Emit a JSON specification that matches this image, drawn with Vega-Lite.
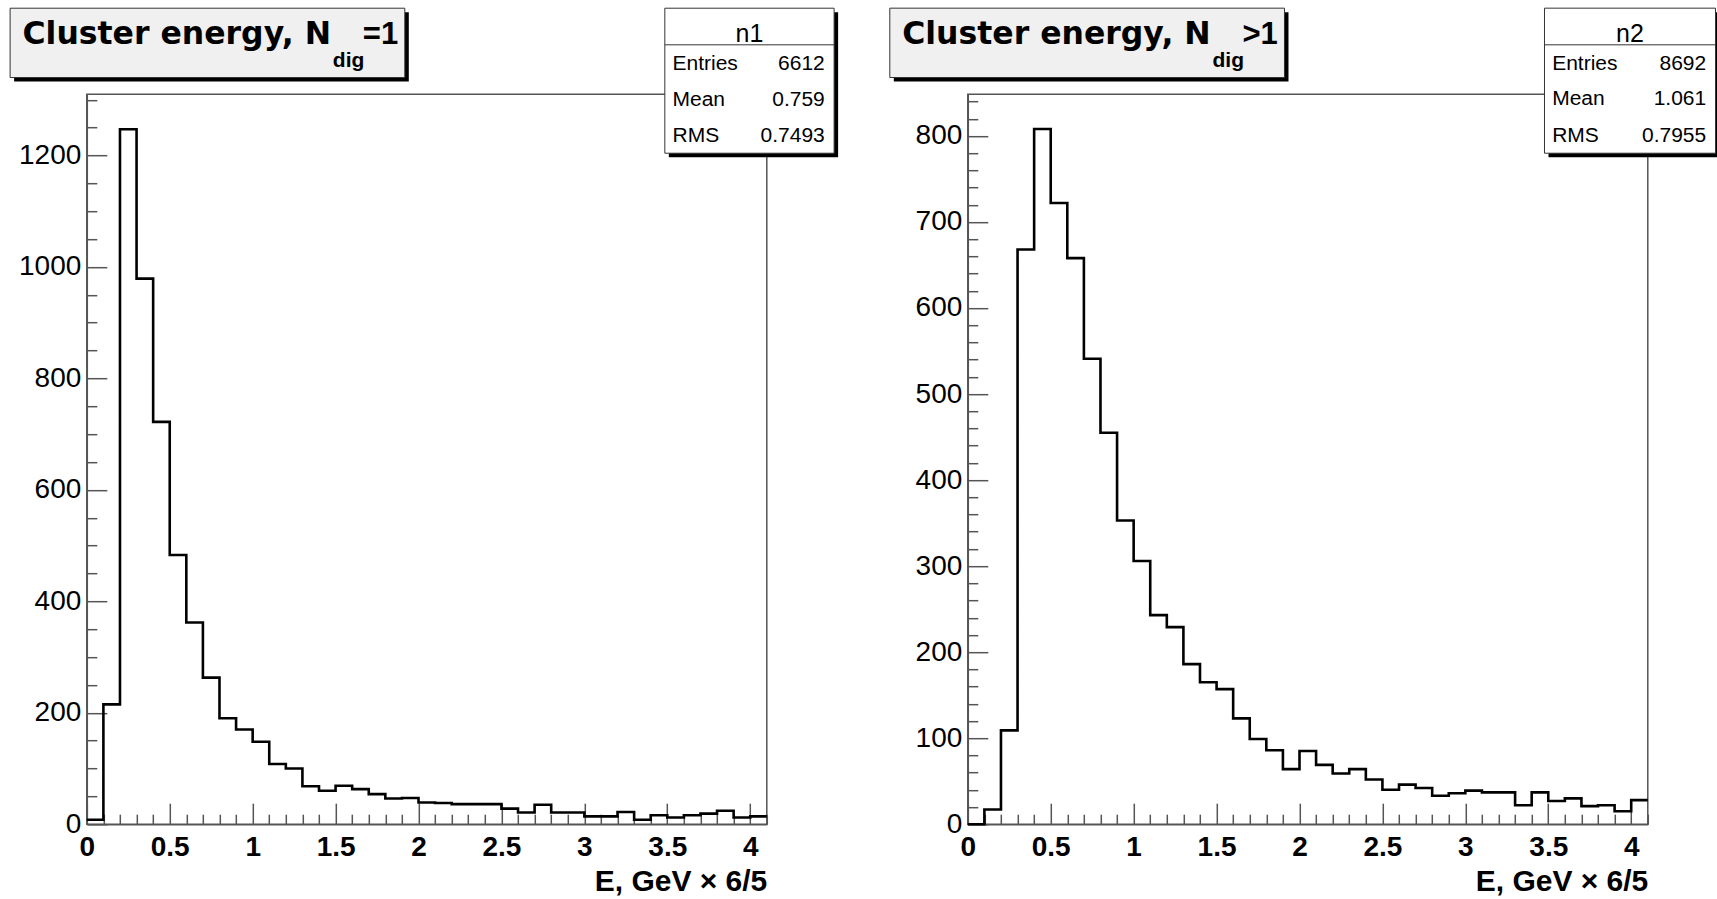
{
  "$schema": "https://vega.github.io/schema/vega-lite/v6.json",
  "background": "white",
  "padding": {"left": 8.8, "top": 6.2, "right": 0, "bottom": 0},
  "config": {
    "view": {"stroke": "#555", "strokeWidth": 1.5},
    "font": "Liberation Sans"
  },
  "datasets": {
    "h1": [{"e":0,"n":8},{"e":0.1,"n":215},{"e":0.2,"n":1247},{"e":0.3,"n":979},{"e":0.4,"n":722},{"e":0.5,"n":483},{"e":0.6,"n":362},{"e":0.7,"n":263},{"e":0.8,"n":190},{"e":0.9,"n":170},{"e":1.0,"n":148},{"e":1.1,"n":108},{"e":1.2,"n":100},{"e":1.3,"n":68},{"e":1.4,"n":60},{"e":1.5,"n":69},{"e":1.6,"n":63},{"e":1.7,"n":54},{"e":1.8,"n":46},{"e":1.9,"n":47},{"e":2.0,"n":39},{"e":2.1,"n":38},{"e":2.2,"n":36},{"e":2.3,"n":36},{"e":2.4,"n":36},{"e":2.5,"n":28},{"e":2.6,"n":21},{"e":2.7,"n":35},{"e":2.8,"n":21},{"e":2.9,"n":21},{"e":3.0,"n":14},{"e":3.1,"n":14},{"e":3.2,"n":22},{"e":3.3,"n":8},{"e":3.4,"n":16},{"e":3.5,"n":12},{"e":3.6,"n":16},{"e":3.7,"n":19},{"e":3.8,"n":24},{"e":3.9,"n":12},{"e":4.0,"n":14},{"e":4.1,"n":14}],
    "h2": [{"e":0,"n":0},{"e":0.1,"n":17},{"e":0.2,"n":109},{"e":0.3,"n":668},{"e":0.4,"n":808},{"e":0.5,"n":722},{"e":0.6,"n":658},{"e":0.7,"n":541},{"e":0.8,"n":455},{"e":0.9,"n":353},{"e":1.0,"n":306},{"e":1.1,"n":243},{"e":1.2,"n":229},{"e":1.3,"n":186},{"e":1.4,"n":165},{"e":1.5,"n":157},{"e":1.6,"n":123},{"e":1.7,"n":99},{"e":1.8,"n":86},{"e":1.9,"n":64},{"e":2.0,"n":85},{"e":2.1,"n":69},{"e":2.2,"n":59},{"e":2.3,"n":64},{"e":2.4,"n":52},{"e":2.5,"n":40},{"e":2.6,"n":46},{"e":2.7,"n":42},{"e":2.8,"n":33},{"e":2.9,"n":36},{"e":3.0,"n":39},{"e":3.1,"n":37},{"e":3.2,"n":37},{"e":3.3,"n":22},{"e":3.4,"n":37},{"e":3.5,"n":27},{"e":3.6,"n":30},{"e":3.7,"n":21},{"e":3.8,"n":22},{"e":3.9,"n":15},{"e":4.0,"n":28},{"e":4.1,"n":28}]
  },
  "hconcat": [
    {
      "width": 680, "height": 730,
      "data": {"name": "h1"},
      "resolve": {"axis": {"x": "independent", "y": "independent"}},
      "layer": [
        {
          "mark": {"type": "line", "interpolate": "step-after", "color": "black", "strokeWidth": 2.6, "clip": false},
          "encoding": {
            "x": {"field": "e", "type": "quantitative", "scale": {"domain": [0, 4.1], "nice": false, "zero": false},
              "axis": {"orient": "bottom", "values": [0,0.5,1,1.5,2,2.5,3,3.5,4], "format": "~g", "tickSize": -21, "tickColor": "#555", "tickWidth": 1.5, "domainColor": "#555", "domainWidth": 1.5, "labelFont": "Liberation Sans", "labelFontWeight": "bold", "labelFontSize": 28, "labelColor": "black", "labelPadding": 30, "labelFlush": false, "labelOverlap": false, "grid": false, "title": "E, GeV × 6/5", "titleFont": "Liberation Sans", "titleFontWeight": "bold", "titleFontSize": 30, "titleColor": "black", "titleAnchor": "end", "titlePadding": 5}},
            "y": {"field": "n", "type": "quantitative", "scale": {"domain": [0, 1310], "nice": false},
              "axis": {"orient": "left", "values": [0,200,400,600,800,1000,1200], "format": "d", "tickSize": -20, "tickColor": "#555", "tickWidth": 1.5, "domainColor": "#555", "domainWidth": 1.5, "labelFont": "Liberation Sans", "labelFontSize": 28, "labelColor": "black", "labelPadding": 26, "labelOverlap": false, "grid": false, "title": null}}
          }
        },
        {
          "mark": {"type": "line", "strokeOpacity": 0},
          "encoding": {
            "x": {"field": "e", "type": "quantitative",
              "axis": {"orient": "bottom", "values": [0.1,0.2,0.3,0.4,0.6,0.7,0.8,0.9,1.1,1.2,1.3,1.4,1.6,1.7,1.8,1.9,2.1,2.2,2.3,2.4,2.6,2.7,2.8,2.9,3.1,3.2,3.3,3.4,3.6,3.7,3.8,3.9,4.1], "tickSize": -10, "tickColor": "#555", "tickWidth": 1.5, "labels": false, "domain": false, "grid": false, "title": null}},
            "y": {"field": "n", "type": "quantitative",
              "axis": {"orient": "left", "values": [50,100,150,250,300,350,450,500,550,650,700,750,850,900,950,1050,1100,1150,1250,1300], "tickSize": -10, "tickColor": "#555", "tickWidth": 1.5, "labels": false, "domain": false, "grid": false, "title": null}}
          }
        },
        {
          "data": {"values": [{}]},
          "mark": {"type": "rect", "fill": "black", "clip": false},
          "encoding": {"x": {"datum": -0.4384, "axis": null}, "x2": {"datum": 1.9415}, "y": {"datum": 1457.1, "axis": null}, "y2": {"datum": 1332.8}}
        },
        {
          "data": {"values": [{}]},
          "mark": {"type": "rect", "fill": "#f0f0f0", "stroke": "#333", "strokeWidth": 1, "clip": false},
          "encoding": {"x": {"datum": -0.4625, "axis": null}, "x2": {"datum": 1.9174}, "y": {"datum": 1464.3, "axis": null}, "y2": {"datum": 1339.9}}
        },
        {
          "data": {"values": [{}]},
          "mark": {"type": "rect", "fill": "black", "clip": false},
          "encoding": {"x": {"datum": 3.5092, "axis": null}, "x2": {"datum": 4.5300}, "y": {"datum": 1457.1, "axis": null}, "y2": {"datum": 1196.9}}
        },
        {
          "data": {"values": [{}]},
          "mark": {"type": "rect", "fill": "white", "stroke": "#333", "strokeWidth": 1, "clip": false},
          "encoding": {"x": {"datum": 3.4851, "axis": null}, "x2": {"datum": 4.5059}, "y": {"datum": 1464.3, "axis": null}, "y2": {"datum": 1204.1}}
        },
        {
          "data": {"values": [{}]},
          "mark": {"type": "rule", "color": "#333", "strokeWidth": 1, "clip": false},
          "encoding": {"x": {"datum": 3.4851, "axis": null}, "x2": {"datum": 4.5059}, "y": {"datum": 1398.6, "axis": null}}
        },
        {
          "data": {"values": [{"t": "Cluster energy, N", "s": "dig", "r": "=1", "h": "n1"}]},
          "layer": [
            {"mark": {"type": "text", "align": "left", "baseline": "alphabetic", "font": "DejaVu Sans", "fontWeight": "bold", "fontSize": 31.5, "color": "black", "clip": false},
             "encoding": {"text": {"field": "t"}, "x": {"datum": -0.3877, "axis": null}, "y": {"datum": 1399.7, "axis": null}}},
            {"mark": {"type": "text", "align": "left", "baseline": "alphabetic", "font": "Liberation Sans", "fontWeight": "bold", "fontSize": 21, "color": "black", "clip": false},
             "encoding": {"text": {"field": "s"}, "x": {"datum": 1.4833, "axis": null}, "y": {"datum": 1358, "axis": null}}},
            {"mark": {"type": "text", "align": "left", "baseline": "alphabetic", "font": "Liberation Sans", "fontWeight": "bold", "fontSize": 31, "color": "black", "clip": false},
             "encoding": {"text": {"field": "r"}, "x": {"datum": 1.6642, "axis": null}, "y": {"datum": 1399.7, "axis": null}}},
            {"mark": {"type": "text", "align": "center", "baseline": "alphabetic", "font": "Liberation Sans", "fontSize": 25, "color": "black", "clip": false},
             "encoding": {"text": {"field": "h"}, "x": {"datum": 3.9955, "axis": null}, "y": {"datum": 1403.3, "axis": null}}}
          ]
        },
        {
          "data": {"values": [{"k": "Entries", "v": "6612"}, {"k": "Mean", "v": "0.759"}, {"k": "RMS", "v": "0.7493"}]},
          "layer": [
            {"transform": [{"filter": "datum.k == 'Entries'"}],
             "layer": [
               {"mark": {"type": "text", "align": "left", "baseline": "alphabetic", "fontSize": 21, "color": "black", "clip": false},
                "encoding": {"text": {"field": "k"}, "x": {"datum": 3.5315, "axis": null}, "y": {"datum": 1353.8, "axis": null}}},
               {"mark": {"type": "text", "align": "right", "baseline": "alphabetic", "fontSize": 21, "color": "black", "clip": false},
                "encoding": {"text": {"field": "v"}, "x": {"datum": 4.4497, "axis": null}, "y": {"datum": 1353.8, "axis": null}}}
             ]},
            {"transform": [{"filter": "datum.k == 'Mean'"}],
             "layer": [
               {"mark": {"type": "text", "align": "left", "baseline": "alphabetic", "fontSize": 21, "color": "black", "clip": false},
                "encoding": {"text": {"field": "k"}, "x": {"datum": 3.5315, "axis": null}, "y": {"datum": 1289.7, "axis": null}}},
               {"mark": {"type": "text", "align": "right", "baseline": "alphabetic", "fontSize": 21, "color": "black", "clip": false},
                "encoding": {"text": {"field": "v"}, "x": {"datum": 4.4497, "axis": null}, "y": {"datum": 1289.7, "axis": null}}}
             ]},
            {"transform": [{"filter": "datum.k == 'RMS'"}],
             "layer": [
               {"mark": {"type": "text", "align": "left", "baseline": "alphabetic", "fontSize": 21, "color": "black", "clip": false},
                "encoding": {"text": {"field": "k"}, "x": {"datum": 3.5315, "axis": null}, "y": {"datum": 1225.1, "axis": null}}},
               {"mark": {"type": "text", "align": "right", "baseline": "alphabetic", "fontSize": 21, "color": "black", "clip": false},
                "encoding": {"text": {"field": "v"}, "x": {"datum": 4.4497, "axis": null}, "y": {"datum": 1225.1, "axis": null}}}
             ]}
          ]
        }
      ]
    },
    {
      "width": 680, "height": 730,
      "data": {"name": "h2"},
      "resolve": {"axis": {"x": "independent", "y": "independent"}},
      "layer": [
        {
          "mark": {"type": "line", "interpolate": "step-after", "color": "black", "strokeWidth": 2.6, "clip": false},
          "encoding": {
            "x": {"field": "e", "type": "quantitative", "scale": {"domain": [0, 4.1], "nice": false, "zero": false},
              "axis": {"orient": "bottom", "values": [0,0.5,1,1.5,2,2.5,3,3.5,4], "format": "~g", "tickSize": -21, "tickColor": "#555", "tickWidth": 1.5, "domainColor": "#555", "domainWidth": 1.5, "labelFont": "Liberation Sans", "labelFontWeight": "bold", "labelFontSize": 28, "labelColor": "black", "labelPadding": 30, "labelFlush": false, "labelOverlap": false, "grid": false, "title": "E, GeV × 6/5", "titleFont": "Liberation Sans", "titleFontWeight": "bold", "titleFontSize": 30, "titleColor": "black", "titleAnchor": "end", "titlePadding": 5}},
            "y": {"field": "n", "type": "quantitative", "scale": {"domain": [0, 848.5], "nice": false},
              "axis": {"orient": "left", "values": [0,100,200,300,400,500,600,700,800], "format": "d", "tickSize": -20, "tickColor": "#555", "tickWidth": 1.5, "domainColor": "#555", "domainWidth": 1.5, "labelFont": "Liberation Sans", "labelFontSize": 28, "labelColor": "black", "labelPadding": 26, "labelOverlap": false, "grid": false, "title": null}}
          }
        },
        {
          "mark": {"type": "line", "strokeOpacity": 0},
          "encoding": {
            "x": {"field": "e", "type": "quantitative",
              "axis": {"orient": "bottom", "values": [0.1,0.2,0.3,0.4,0.6,0.7,0.8,0.9,1.1,1.2,1.3,1.4,1.6,1.7,1.8,1.9,2.1,2.2,2.3,2.4,2.6,2.7,2.8,2.9,3.1,3.2,3.3,3.4,3.6,3.7,3.8,3.9,4.1], "tickSize": -10, "tickColor": "#555", "tickWidth": 1.5, "labels": false, "domain": false, "grid": false, "title": null}},
            "y": {"field": "n", "type": "quantitative",
              "axis": {"orient": "left", "values": [20,40,60,80,120,140,160,180,220,240,260,280,320,340,360,380,420,440,460,480,520,540,560,580,620,640,660,680,720,740,760,780,820,840], "tickSize": -10, "tickColor": "#555", "tickWidth": 1.5, "labels": false, "domain": false, "grid": false, "title": null}}
          }
        },
        {
          "data": {"values": [{}]},
          "mark": {"type": "rect", "fill": "black", "clip": false},
          "encoding": {"x": {"datum": -0.4462, "axis": null}, "x2": {"datum": 1.9336}, "y": {"datum": 943.8, "axis": null}, "y2": {"datum": 863.3}}
        },
        {
          "data": {"values": [{}]},
          "mark": {"type": "rect", "fill": "#f0f0f0", "stroke": "#333", "strokeWidth": 1, "clip": false},
          "encoding": {"x": {"datum": -0.4703, "axis": null}, "x2": {"datum": 1.9095}, "y": {"datum": 948.5, "axis": null}, "y2": {"datum": 867.9}}
        },
        {
          "data": {"values": [{}]},
          "mark": {"type": "rect", "fill": "black", "clip": false},
          "encoding": {"x": {"datum": 3.5013, "axis": null}, "x2": {"datum": 4.5324}, "y": {"datum": 943.8, "axis": null}, "y2": {"datum": 775.3}}
        },
        {
          "data": {"values": [{}]},
          "mark": {"type": "rect", "fill": "white", "stroke": "#333", "strokeWidth": 1, "clip": false},
          "encoding": {"x": {"datum": 3.4772, "axis": null}, "x2": {"datum": 4.5083}, "y": {"datum": 948.5, "axis": null}, "y2": {"datum": 779.9}}
        },
        {
          "data": {"values": [{}]},
          "mark": {"type": "rule", "color": "#333", "strokeWidth": 1, "clip": false},
          "encoding": {"x": {"datum": 3.4772, "axis": null}, "x2": {"datum": 4.5083}, "y": {"datum": 905.9, "axis": null}}
        },
        {
          "data": {"values": [{"t": "Cluster energy, N", "s": "dig", "r": ">1", "h": "n2"}]},
          "layer": [
            {"mark": {"type": "text", "align": "left", "baseline": "alphabetic", "font": "DejaVu Sans", "fontWeight": "bold", "fontSize": 31.5, "color": "black", "clip": false},
             "encoding": {"text": {"field": "t"}, "x": {"datum": -0.3955, "axis": null}, "y": {"datum": 906.6, "axis": null}}},
            {"mark": {"type": "text", "align": "left", "baseline": "alphabetic", "font": "Liberation Sans", "fontWeight": "bold", "fontSize": 21, "color": "black", "clip": false},
             "encoding": {"text": {"field": "s"}, "x": {"datum": 1.4754, "axis": null}, "y": {"datum": 879.6, "axis": null}}},
            {"mark": {"type": "text", "align": "left", "baseline": "alphabetic", "font": "Liberation Sans", "fontWeight": "bold", "fontSize": 31, "color": "black", "clip": false},
             "encoding": {"text": {"field": "r"}, "x": {"datum": 1.6563, "axis": null}, "y": {"datum": 906.6, "axis": null}}},
            {"mark": {"type": "text", "align": "center", "baseline": "alphabetic", "font": "Liberation Sans", "fontSize": 25, "color": "black", "clip": false},
             "encoding": {"text": {"field": "h"}, "x": {"datum": 3.9928, "axis": null}, "y": {"datum": 908.9, "axis": null}}}
          ]
        },
        {
          "data": {"values": [{"k": "Entries", "v": "8692"}, {"k": "Mean", "v": "1.061"}, {"k": "RMS", "v": "0.7955"}]},
          "layer": [
            {"transform": [{"filter": "datum.k == 'Entries'"}],
             "layer": [
               {"mark": {"type": "text", "align": "left", "baseline": "alphabetic", "fontSize": 21, "color": "black", "clip": false},
                "encoding": {"text": {"field": "k"}, "x": {"datum": 3.5237, "axis": null}, "y": {"datum": 876.9, "axis": null}}},
               {"mark": {"type": "text", "align": "right", "baseline": "alphabetic", "fontSize": 21, "color": "black", "clip": false},
                "encoding": {"text": {"field": "v"}, "x": {"datum": 4.4522, "axis": null}, "y": {"datum": 876.9, "axis": null}}}
             ]},
            {"transform": [{"filter": "datum.k == 'Mean'"}],
             "layer": [
               {"mark": {"type": "text", "align": "left", "baseline": "alphabetic", "fontSize": 21, "color": "black", "clip": false},
                "encoding": {"text": {"field": "k"}, "x": {"datum": 3.5237, "axis": null}, "y": {"datum": 835.4, "axis": null}}},
               {"mark": {"type": "text", "align": "right", "baseline": "alphabetic", "fontSize": 21, "color": "black", "clip": false},
                "encoding": {"text": {"field": "v"}, "x": {"datum": 4.4522, "axis": null}, "y": {"datum": 835.4, "axis": null}}}
             ]},
            {"transform": [{"filter": "datum.k == 'RMS'"}],
             "layer": [
               {"mark": {"type": "text", "align": "left", "baseline": "alphabetic", "fontSize": 21, "color": "black", "clip": false},
                "encoding": {"text": {"field": "k"}, "x": {"datum": 3.5237, "axis": null}, "y": {"datum": 793.5, "axis": null}}},
               {"mark": {"type": "text", "align": "right", "baseline": "alphabetic", "fontSize": 21, "color": "black", "clip": false},
                "encoding": {"text": {"field": "v"}, "x": {"datum": 4.4522, "axis": null}, "y": {"datum": 793.5, "axis": null}}}
             ]}
          ]
        }
      ]
    }
  ],
  "spacing": 201,
  "bounds": "flush"
}
